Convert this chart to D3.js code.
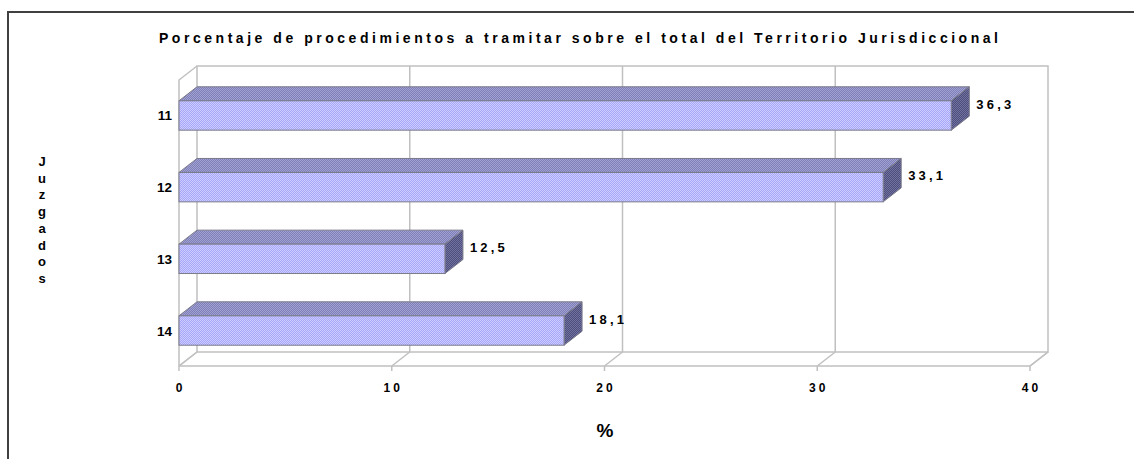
<!DOCTYPE html>
<html>
<head>
<meta charset="utf-8">
<script src="https://cdn.jsdelivr.net/npm/d3@7"></script>
<style>
  body { margin: 0; background: #fff; }
  text { font-family: Arial, "Liberation Sans", sans-serif; font-weight: bold; fill: #000; }
</style>
</head>
<body>
<div id="chart"></div>
<script>
const juzgados = ['11', '12', '13', '14']
const porcentajes = [36.3, 33.1, 12.5, 18.1]
const ticks = [0, 10, 20, 30, 40]
const etiquetas = ['36,3', '33,1', '12,5', '18,1']

const title = 'Porcentaje de procedimientos a tramitar sobre el total del Territorio Jurisdiccional'

const width = 1134
const height = 459

// 3d offset of the back wall
const depth = { x: 18, y: -14 }

const svg = d3.select('#chart')
  .append('svg')
  .attr('width', width)
  .attr('height', height)

const xPositionScale = d3.scaleLinear().domain([0, 40]).range([179, 1030])
const yPositionScale = d3.scaleBand()
  .domain(juzgados)
  .range([80, 366])
  .paddingInner(0.59)
  .paddingOuter(0.29)

const defs = svg.append('defs')
function dots(id, a, b) {
  const p = defs.append('pattern')
    .attr('id', id)
    .attr('width', 2).attr('height', 2)
    .attr('patternUnits', 'userSpaceOnUse')
  p.append('rect').attr('width', 2).attr('height', 2).attr('fill', a)
  p.append('rect').attr('width', 1).attr('height', 1).attr('fill', b)
  p.append('rect').attr('x', 1).attr('y', 1).attr('width', 1).attr('height', 1).attr('fill', b)
}
dots('front', '#a6a6fa', '#cdcdff')
dots('top', '#7e7eb8', '#a2a2d2')
dots('side', '#4e4e7e', '#72729e')

// outer frame
svg.append('path')
  .attr('d', 'M8,' + height + 'V12H' + width)
  .attr('fill', 'none')
  .attr('stroke', '#404040')
  .attr('stroke-width', 2)

const x0 = xPositionScale(0)
const x1 = xPositionScale(40)
const yTop = yPositionScale.range()[0]
const yBot = yPositionScale.range()[1]
const wall = svg.append('g')
  .attr('fill', 'none')
  .attr('stroke', '#c0c0c0')
  .attr('stroke-width', 1.5)

// back wall + gridlines
wall.append('rect')
  .attr('x', x0 + depth.x).attr('y', yTop + depth.y)
  .attr('width', x1 - x0).attr('height', yBot - yTop)
wall.selectAll('.grid')
  .data(ticks.slice(1, -1))
  .enter()
  .append('line')
  .attr('x1', d => xPositionScale(d) + depth.x)
  .attr('x2', d => xPositionScale(d) + depth.x)
  .attr('y1', yTop + depth.y)
  .attr('y2', yBot + depth.y)

// left wall
wall.append('path')
  .attr('d', 'M' + x0 + ',' + yBot + 'V' + yTop + 'l' + depth.x + ',' + depth.y)

// floor
wall.append('path')
  .attr('d', 'M' + x0 + ',' + yBot + 'H' + x1 + 'l' + depth.x + ',' + depth.y)
wall.append('line')
  .attr('x1', x0).attr('y1', yBot)
  .attr('x2', x0 + depth.x).attr('y2', yBot + depth.y)
wall.selectAll('.floor')
  .data(ticks)
  .enter()
  .append('line')
  .attr('x1', d => xPositionScale(d))
  .attr('x2', d => xPositionScale(d) + depth.x)
  .attr('y1', yBot)
  .attr('y2', yBot + depth.y)
wall.selectAll('.tick')
  .data(ticks)
  .enter()
  .append('line')
  .attr('x1', d => xPositionScale(d))
  .attr('x2', d => xPositionScale(d))
  .attr('y1', yBot)
  .attr('y2', yBot + 5)

// bars
const bh = yPositionScale.bandwidth()
const bars = svg.selectAll('.bar')
  .data(juzgados)
  .enter()
  .append('g')
  .attr('class', 'bar')
  .attr('stroke', '#7a7a8a')
  .attr('stroke-width', 1)

bars.append('path')
  .attr('fill', 'url(#top)')
  .attr('d', (d, i) => {
    const y = yPositionScale(d)
    const xe = xPositionScale(porcentajes[i])
    return 'M' + x0 + ',' + y + 'l' + depth.x + ',' + depth.y + 'H' + (xe + depth.x) + 'l' + (-depth.x) + ',' + (-depth.y) + 'Z'
  })
bars.append('path')
  .attr('fill', 'url(#side)')
  .attr('d', (d, i) => {
    const y = yPositionScale(d)
    const xe = xPositionScale(porcentajes[i])
    return 'M' + xe + ',' + y + 'l' + depth.x + ',' + depth.y + 'v' + bh + 'l' + (-depth.x) + ',' + (-depth.y) + 'Z'
  })
bars.append('rect')
  .attr('fill', 'url(#front)')
  .attr('x', x0)
  .attr('y', d => yPositionScale(d))
  .attr('width', (d, i) => xPositionScale(porcentajes[i]) - x0)
  .attr('height', bh)

// value labels
svg.selectAll('.value')
  .data(juzgados)
  .enter()
  .append('text')
  .attr('x', (d, i) => xPositionScale(porcentajes[i]) + depth.x + 7)
  .attr('y', d => yPositionScale(d) + 8)
  .attr('font-size', 13)
  .attr('letter-spacing', 3.2)
  .text((d, i) => etiquetas[i])

// category labels
svg.selectAll('.cat')
  .data(juzgados)
  .enter()
  .append('text')
  .attr('x', x0 - 7)
  .attr('y', d => yPositionScale(d) + bh / 2 + 5)
  .attr('text-anchor', 'end')
  .attr('font-size', 13.5)
  .text(d => d)

// x tick labels
svg.selectAll('.xlab')
  .data(ticks)
  .enter()
  .append('text')
  .attr('x', d => xPositionScale(d) + 1.5)
  .attr('y', 392)
  .attr('text-anchor', 'middle')
  .attr('font-size', 12)
  .attr('letter-spacing', 3)
  .text(d => d)

// title
const t = svg.append('text')
  .attr('x', 159)
  .attr('y', 43)
  .attr('font-size', 14)
  .text(title)
t.attr('textLength', 998 - 159).attr('lengthAdjust', 'spacing')

// axis titles
svg.append('text')
  .attr('x', 605)
  .attr('y', 437)
  .attr('text-anchor', 'middle')
  .attr('font-size', 19)
  .text('%')

const letras = 'Juzgados'.split('')
svg.selectAll('.ylab')
  .data(letras)
  .enter()
  .append('text')
  .attr('x', 42)
  .attr('y', (d, i) => 166 + i * 16.7)
  .attr('text-anchor', 'middle')
  .attr('font-size', 13)
  .text(d => d)
</script>
</body>
</html>
